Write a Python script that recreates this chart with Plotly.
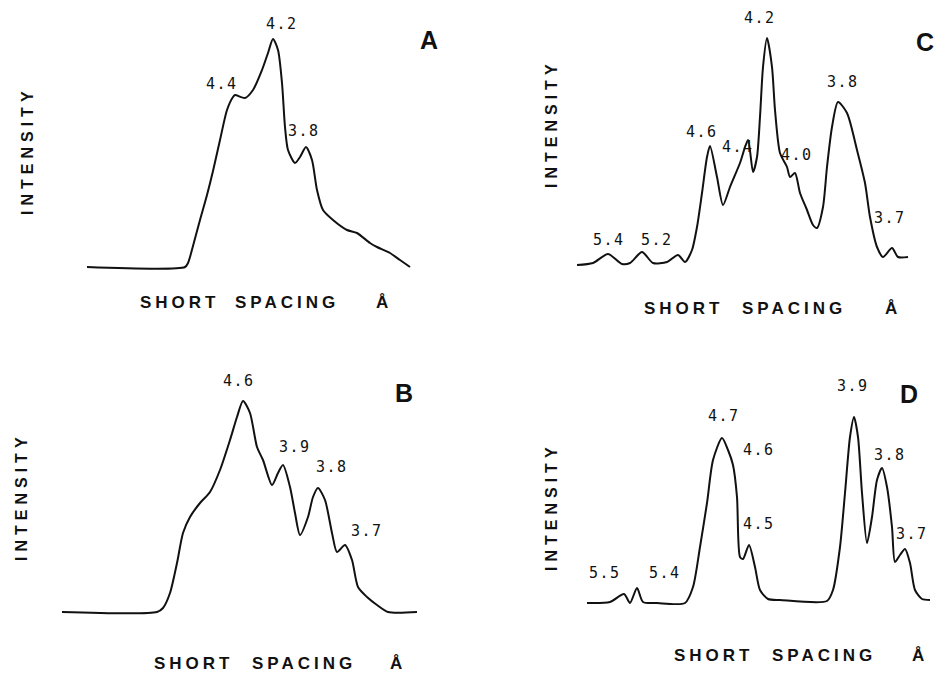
import plotly.graph_objects as go

# ---------------------------------------------------------------------------
# Diffractometer traces: chart position along the scan vs. recorded intensity
# (arbitrary units, baseline = 0).
# ---------------------------------------------------------------------------
A_pos = [7, 105, 108, 110, 120, 127, 133, 140, 147, 153, 155, 165, 173, 182, 188, 193, 198,
         202, 205, 208, 215, 220, 226, 232, 237, 243, 253, 267, 277, 290, 297, 310, 320, 330]
A_int = [0, 0, 4, 10, 47, 72, 96, 127, 157, 170, 172, 169, 177, 197, 214, 228, 217,
         184, 140, 117, 104, 110, 120, 107, 77, 57, 47, 37, 34, 24, 20, 14, 7, 0]

B_pos = [62, 157, 163, 170, 177, 183, 190, 200, 210, 220, 230, 237, 243, 250, 257, 263, 272, 278,
         283, 290, 295, 300, 308, 313, 318, 325, 332, 337, 345, 352, 358, 367, 377, 388, 417]
B_int = [0, 0, 4, 19, 49, 79, 95, 109, 120, 142, 172, 195, 211, 199, 165, 152, 127, 139,
         147, 125, 99, 77, 95, 115, 124, 112, 79, 60, 67, 52, 25, 15, 7, 0, 0]

C_pos = [17, 33, 48, 62, 70, 82, 93, 107, 118, 125, 132, 137, 142, 147, 150, 157, 163, 170,
         180, 188, 193, 197, 200, 203, 207, 212, 215, 220, 227, 230, 235, 240, 247, 253, 257,
         263, 267, 272, 278, 287, 297, 305, 310, 317, 323, 332, 338, 348]
C_int = [0, 2, 11, 1, 2, 13, 2, 3, 10, 3, 15, 38, 72, 108, 119, 88, 60, 78,
         102, 125, 93, 108, 148, 198, 227, 198, 155, 112, 98, 88, 92, 72, 55, 40, 37,
         58, 98, 138, 163, 152, 115, 82, 48, 18, 8, 17, 8, 8]

D_pos = [27, 50, 64, 70, 77, 83, 97, 125, 133, 140, 147, 153, 162, 168, 173, 177, 180, 183,
         189, 195, 200, 208, 220, 267, 273, 280, 285, 290, 294, 298, 302, 307, 312, 317,
         322, 327, 332, 335, 340, 345, 350, 355, 362, 370]
D_int = [0, 1, 9, 0, 15, 1, 0, 0, 16, 56, 100, 143, 165, 153, 138, 106, 46, 44,
         58, 36, 13, 4, 3, 2, 13, 56, 110, 166, 186, 166, 110, 60, 86, 123, 135,
         116, 76, 41, 48, 54, 40, 13, 4, 3]

# Short spacings (Å) marked on each trace
A_spacings = ["4.4", "4.2", "3.8"]
B_spacings = ["4.6", "3.9", "3.8", "3.7"]
C_spacings = ["5.4", "5.2", "4.6", "4.4", "4.2", "4.0", "3.8", "3.7"]
D_spacings = ["5.5", "5.4", "4.7", "4.6", "4.5", "3.9", "3.8", "3.7"]

Y_TITLE = "INTENSITY"
X_WORDS = ["SHORT", "SPACING", "Å"]

# ---------------------------------------------------------------------------
# Layout
# ---------------------------------------------------------------------------
W, H = 936, 673
INK = "#111111"

panels = [
    dict(name="A", pos=A_pos, inten=A_int, spacings=A_spacings,
         box=(0, 0, 468, 336), origin=(80, 267),
         label_xy=[(142, 183), (202, 243), (224, 136)],
         letter_xy=(349, 227), ytitle_xy=(-53, 116),
         xwords_x=[58, 153, 294], xwords_y=-35),
    dict(name="B", pos=B_pos, inten=B_int, spacings=B_spacings,
         box=(0, 336, 468, 673), origin=(0, 612),
         label_xy=[(239, 231), (295, 165), (332, 145), (367, 81)],
         letter_xy=(404, 219), ytitle_xy=(21, 115),
         xwords_x=[152, 250, 388], xwords_y=-51),
    dict(name="C", pos=C_pos, inten=C_int, spacings=C_spacings,
         box=(468, 0, 936, 336), origin=(560, 265),
         label_xy=[(49, 25), (97, 25), (142, 133), (178, 118), (200, 247),
                   (237, 110), (283, 183), (330, 47)],
         letter_xy=(365, 223), ytitle_xy=(-9, 141),
         xwords_x=[82, 180, 323], xwords_y=-43),
    dict(name="D", pos=D_pos, inten=D_int, spacings=D_spacings,
         box=(468, 336, 936, 673), origin=(560, 603),
         label_xy=[(45, 30), (105, 30), (164, 187), (199, 153), (199, 79),
                   (293, 217), (330, 148), (352, 69)],
         letter_xy=(349, 209), ytitle_xy=(-9, 96),
         xwords_x=[112, 210, 350], xwords_y=-52),
]


def spaced(text, px):
    return f'<span style="letter-spacing:{px}px">{text}</span>'


fig = go.Figure()
annotations = []
layout_axes = {}

for i, p in enumerate(panels, start=1):
    suffix = "" if i == 1 else str(i)
    xa, ya = f"x{suffix}", f"y{suffix}"
    x0, y0, x1, y1 = p["box"]
    ox, oy = p["origin"]

    layout_axes[f"xaxis{suffix}"] = dict(
        domain=[x0 / W, x1 / W], range=[x0 - ox, x1 - ox],
        visible=False, anchor=ya, fixedrange=True)
    layout_axes[f"yaxis{suffix}"] = dict(
        domain=[(H - y1) / H, (H - y0) / H], range=[oy - y1, oy - y0],
        visible=False, anchor=xa, fixedrange=True)

    fig.add_trace(go.Scatter(
        x=p["pos"], y=p["inten"], xaxis=xa, yaxis=ya, mode="lines",
        line=dict(color=INK, width=2, shape="spline", smoothing=0.7),
        hoverinfo="skip", showlegend=False))

    # spacing labels
    for text, (lx, ly) in zip(p["spacings"], p["label_xy"]):
        annotations.append(dict(
            x=lx, y=ly, xref=xa, yref=ya, text=spaced(text, 1.5), showarrow=False,
            xanchor="center", yanchor="middle",
            font=dict(family="DejaVu Sans Mono", size=15, color=INK)))

    # panel letter
    annotations.append(dict(
        x=p["letter_xy"][0], y=p["letter_xy"][1], xref=xa, yref=ya,
        text=p["name"], showarrow=False, xanchor="center", yanchor="middle",
        font=dict(family="Liberation Sans", size=25, color=INK, weight="bold")))

    # vertical axis title
    annotations.append(dict(
        x=p["ytitle_xy"][0], y=p["ytitle_xy"][1], xref=xa, yref=ya,
        text=spaced(Y_TITLE, 5), textangle=-90, showarrow=False,
        xanchor="center", yanchor="middle",
        font=dict(family="Liberation Sans", size=16, color=INK, weight="bold")))

    # horizontal axis title, word by word
    for word, wx in zip(X_WORDS, p["xwords_x"]):
        annotations.append(dict(
            x=wx, y=p["xwords_y"], xref=xa, yref=ya, text=spaced(word, 4),
            showarrow=False, xanchor="left", yanchor="middle",
            font=dict(family="Liberation Sans", size=17, color=INK, weight="bold")))

fig.update_layout(
    width=W, height=H,
    margin=dict(l=0, r=0, t=0, b=0),
    paper_bgcolor="white", plot_bgcolor="white",
    annotations=annotations,
    **layout_axes,
)

fig.write_html("out.html", config={"displayModeBar": False})
